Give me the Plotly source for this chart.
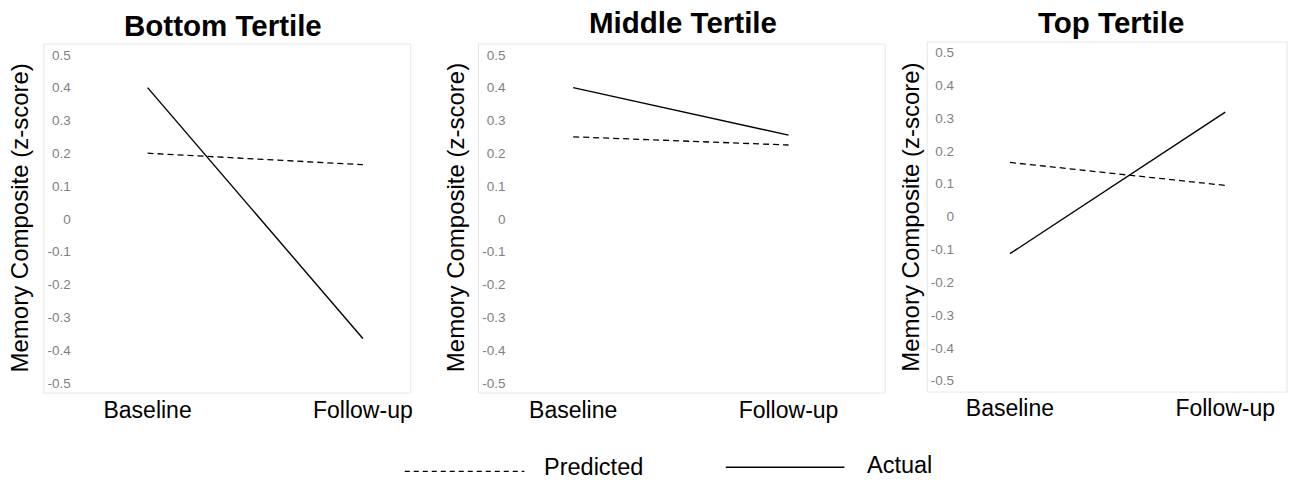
import plotly.graph_objects as go

W, H = 1299, 480

# ---------------- data ----------------
categories = ["Baseline", "Follow-up"]
panel_titles = ["Bottom Tertile", "Middle Tertile", "Top Tertile"]
predicted_bottom = [0.20, 0.165]
actual_bottom = [0.40, -0.365]
predicted_middle = [0.25, 0.225]
actual_middle = [0.40, 0.255]
predicted_top = [0.165, 0.095]
actual_top = [-0.113, 0.318]
y_tick_values = [-0.5, -0.4, -0.3, -0.2, -0.1, 0, 0.1, 0.2, 0.3, 0.4, 0.5]
y_tick_labels = ["-0.5", "-0.4", "-0.3", "-0.2", "-0.1", "0", "0.1", "0.2", "0.3", "0.4", "0.5"]
y_title = "Memory Composite (z-score)"
legend_labels = ["Predicted", "Actual"]

predicted = [predicted_bottom, predicted_middle, predicted_top]
actual = [actual_bottom, actual_middle, actual_top]

# ---------------- layout geometry (pixels) ----------------
def px(x):
    return x / W

def py(y):
    # target pixel row -> paper coordinate (compensates page offset seen in the viewer)
    yf = (y - 8) / 0.966
    return 1 - yf / H

panels = [
    dict(xd=(72, 410), yd=(55.7, 382.7), xr=(-0.352, 1.213), box=(44, 45, 412, 393),
         tx=224, ty=26, ytx=20),
    dict(xd=(508, 886), yd=(55.7, 382.7), xr=(-0.310, 1.440), box=(480, 45, 888, 393),
         tx=685, ty=23, ytx=457),
    dict(xd=(958, 1291), yd=(53.3, 380.7), xr=(-0.255, 1.287), box=(930, 43, 1291, 392),
         tx=1114, ty=23, ytx=913),
]

fig = go.Figure()
layout = dict(
    width=W, height=H, margin=dict(l=0, r=0, t=0, b=0), autosize=False,
    paper_bgcolor="white", plot_bgcolor="white", showlegend=False,
    font=dict(family="Liberation Sans, Arial, sans-serif", color="black"),
)
shapes = []
annotations = []

for i, p in enumerate(panels):
    n = "" if i == 0 else str(i + 1)
    xa, ya = "x" + n, "y" + n
    fig.add_trace(go.Scatter(
        x=categories, y=predicted[i], mode="lines", name=legend_labels[0],
        line=dict(color="black", width=1.3, dash="6px,4px"),
        xaxis=xa, yaxis=ya, showlegend=(i == 0)))
    fig.add_trace(go.Scatter(
        x=categories, y=actual[i], mode="lines", name=legend_labels[1],
        line=dict(color="black", width=1.4),
        xaxis=xa, yaxis=ya, showlegend=(i == 0)))
    layout["xaxis" + n] = dict(
        domain=[px(p["xd"][0]), px(p["xd"][1])], anchor=ya,
        type="category", range=list(p["xr"]),
        showgrid=False, zeroline=False, showline=False,
        ticks="outside", ticklen=7, tickcolor="rgba(0,0,0,0)",
        tickfont=dict(size=23, color="black"))
    layout["yaxis" + n] = dict(
        domain=[py(p["yd"][1]), py(p["yd"][0])], anchor=xa,
        range=[-0.5, 0.5], tickvals=y_tick_values, ticktext=y_tick_labels,
        showgrid=False, zeroline=False, showline=False, ticks="",
        tickfont=dict(size=13.5, color="#7f7f7f"))
    bx0, by0, bx1, by1 = p["box"]
    shapes.append(dict(type="rect", xref="paper", yref="paper",
                       x0=px(bx0), x1=px(bx1), y0=py(by1), y1=py(by0),
                       line=dict(color="#e6e6e6", width=1), layer="below"))
    annotations.append(dict(text="<b>" + panel_titles[i] + "</b>", xref="paper", yref="paper",
                            x=px(p["tx"]), y=py(p["ty"]), xanchor="center", yanchor="middle",
                            showarrow=False, font=dict(size=29.5, color="black")))
    annotations.append(dict(text=y_title, xref="paper", yref="paper", textangle=-90,
                            x=px(p["ytx"]), y=py(218), xanchor="center", yanchor="middle",
                            showarrow=False, font=dict(size=24, color="black")))

# legend (drawn manually to match long line samples)
shapes.append(dict(type="line", xref="paper", yref="paper",
                   x0=px(406), x1=px(526), y0=py(471), y1=py(471),
                   line=dict(color="black", width=1.2, dash="5px,4px")))
shapes.append(dict(type="line", xref="paper", yref="paper",
                   x0=px(728), x1=px(847), y0=py(467), y1=py(467),
                   line=dict(color="black", width=1.4)))
annotations.append(dict(text=legend_labels[0], xref="paper", yref="paper",
                        x=px(544), y=py(467), xanchor="left", yanchor="middle",
                        showarrow=False, font=dict(size=23.5, color="black")))
annotations.append(dict(text=legend_labels[1], xref="paper", yref="paper",
                        x=px(868), y=py(465), xanchor="left", yanchor="middle",
                        showarrow=False, font=dict(size=23.5, color="black")))

layout["shapes"] = shapes
layout["annotations"] = annotations
fig.update_layout(**layout)
fig.write_html(
    "out.html",
    config={"displayModeBar": False},
    post_script="document.body.style.margin='0';document.body.style.overflow='hidden';",
)
